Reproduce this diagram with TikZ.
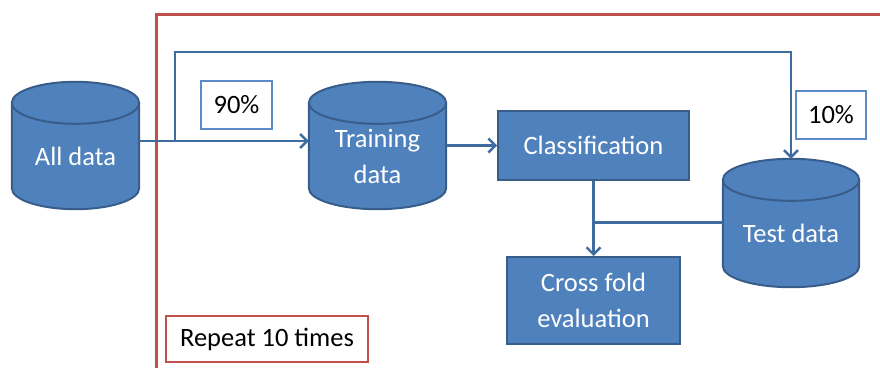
\documentclass[tikz,border=0pt]{standalone}
\usepackage{fontspec}
\setmainfont{Carlito}
\usetikzlibrary{arrows.meta,calc,backgrounds}

\definecolor{boxfill}{HTML}{4F81BD}
\definecolor{boxedge}{HTML}{385D8A}
\definecolor{linkblue}{HTML}{3E6C9F}
\definecolor{framered}{HTML}{C0504D}
\definecolor{tagblue}{HTML}{5B8BC6}

\tikzset{
  every node/.style={font=\fontsize{26.5}{36}\selectfont},
  blockbox/.style={draw=boxedge, line width=2pt, fill=boxfill, text=white,
    inner sep=0pt, align=center},
  cylnode/.style={inner sep=0pt},
  cyllabel/.style={text=white, align=center, yshift=-10.5pt},
  conn/.style={draw=linkblue, line width=2.4pt,
    -{Straight Barb[length=7pt,width=14pt,line width=2.4pt]}},
  plainline/.style={draw=linkblue, line width=2.4pt},
  tagbox/.style={draw=tagblue, line width=2.5pt, fill=white, text=black,
    inner sep=0pt},
  redtag/.style={draw=framered, line width=2.5pt, fill=white, text=black,
    inner sep=0pt},
}

% database cylinder behind a named node, top ellipse half-height 21pt
\newcommand\dbdrum[1]{%
  \begin{scope}[on background layer]
    \path[fill=boxfill, draw=boxedge, line width=2pt]
      let \p1=(#1.north west), \p2=(#1.south east),
          \n1={(\x2-\x1)/2} in
      (\x1,\y1-21pt) -- (\x1,\y2+21pt)
      arc[start angle=180, end angle=360, x radius=\n1, y radius=21pt]
      -- (\x2,\y1-21pt)
      arc[start angle=0, end angle=180, x radius=\n1, y radius=21pt]
      -- cycle;
    \path[draw=boxedge, line width=2pt]
      let \p1=(#1.north west), \p2=(#1.south east),
          \n1={(\x2-\x1)/2} in
      (\x1,\y1-21pt)
      arc[start angle=180, end angle=360, x radius=\n1, y radius=21pt];
  \end{scope}}

\begin{document}
\begin{tikzpicture}[x=1pt, y=-1pt]
  \useasboundingbox (0,0) rectangle (880,367);

  % repeat frame
  \draw[framered, line width=3pt] (156,380) -- (156,14) -- (895,14);

  % data stores
  \node[cylnode, minimum width=127pt, minimum height=127pt,
        label={[cyllabel]center:All data}] (all) at (75.5,145.5) {};
  \node[cylnode, minimum width=137pt, minimum height=127pt,
        label={[cyllabel]center:Training\\data}] (train) at (377.5,145.5) {};
  \node[cylnode, minimum width=136pt, minimum height=128pt,
        label={[cyllabel]center:Test data}] (test) at (791,223) {};
  \dbdrum{all}
  \dbdrum{train}
  \dbdrum{test}

  % process boxes
  \node[blockbox, minimum width=191pt, minimum height=69pt]
    (cls) at (593.5,145.5) {Classification};
  \node[blockbox, minimum width=173pt, minimum height=87pt]
    (cross) at (593.5,300.5) {Cross fold\\evaluation};

  % split labels
  \node[tagbox, minimum width=71pt, minimum height=48pt] (p90) at (236.5,105) {90\%};
  \node[tagbox, minimum width=70pt, minimum height=48pt] (p10) at (831,115) {10\%};
  \node[redtag, minimum width=202pt, minimum height=46pt] (rep) at (267,339) {Repeat 10 times};

  % connectors
  \coordinate (split) at (175,141);
  \coordinate (overtop) at (175,52);
  \draw[conn] ([yshift=4.5pt]all.east) -- ([yshift=4.5pt]train.west);
  \draw[conn] (split) -- (overtop) -| (test.north);
  \draw[conn] (train.east) -- (cls.west);
  \draw[conn] (cls.south) -- (cross.north);
  \draw[plainline] ([yshift=0.5pt]test.west) -- ([yshift=0.5pt]test.west -| cls.south);
\end{tikzpicture}
\end{document}
